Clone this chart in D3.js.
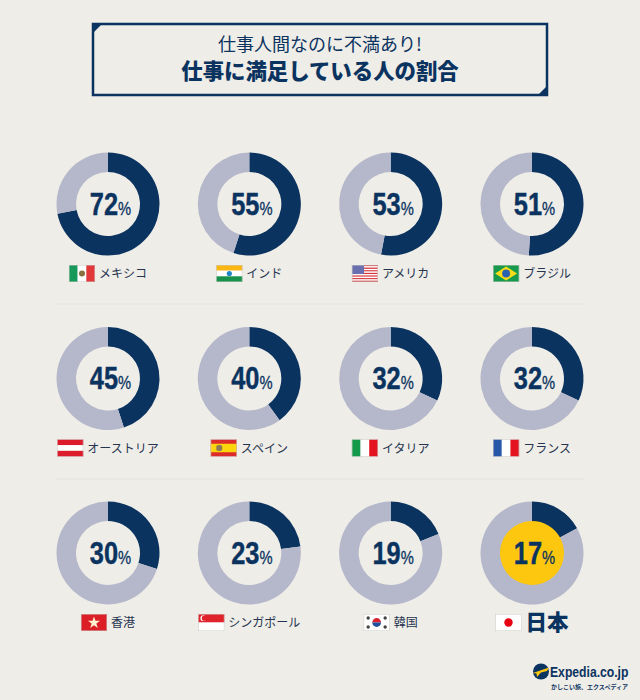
<!DOCTYPE html>
<html>
<head>
<meta charset="utf-8">
<script src="https://cdn.jsdelivr.net/npm/d3@7"></script>
<style>
  html, body { margin: 0; padding: 0; background: #eeede8; }
  svg { display: block; }
  text { font-family: "Noto Sans CJK JP", sans-serif; }
  .num { font-family: "Liberation Sans", Arial, sans-serif; font-weight: 700; }
</style>
</head>
<body>
<svg id="chart" width="640" height="700"></svg>
<script>
const countries = ["メキシコ", "インド", "アメリカ", "ブラジル", "オーストリア", "スペイン", "イタリア", "フランス", "香港", "シンガポール", "韓国", "日本"];
const flags = ["mx", "in", "us", "br", "at", "es", "it", "fr", "hk", "sg", "kr", "jp"];
const values = [72, 55, 53, 51, 45, 40, 32, 32, 30, 23, 19, 17];
const titleTop = "仕事人間なのに不満あり!";
const titleMain = "仕事に満足している人の割合";

const NAVY = "#0b3360";
const GREY = "#b5b7cb";
const BG = "#eeede8";

const svg = d3.select("#chart");

/**
 * SCALES
 */
const colX = d3.scaleLinear().domain([0, 3]).range([108, 532]);
const rowY = d3.scaleLinear().domain([0, 2]).range([204, 553]);
const pie = d3.pie().sort(null).startAngle(0).endAngle(2 * Math.PI);
const arc = d3.arc().innerRadius(32).outerRadius(51.5);

/**
 * TITLE BOX
 */
function drawTitle() {
  svg.append("rect")
    .attr("x", 93).attr("y", 24)
    .attr("width", 454).attr("height", 71)
    .attr("fill", "none")
    .attr("stroke", NAVY)
    .attr("stroke-width", 2.5);

  svg.append("path").attr("d", "M92,23 h11 l-11,11 z").attr("fill", NAVY);
  svg.append("path").attr("d", "M548,96 h-11 l11,-11 z").attr("fill", NAVY);

  svg.append("text")
    .attr("x", 320).attr("y", 51)
    .attr("text-anchor", "middle")
    .attr("font-size", 18)
    .attr("fill", NAVY)
    .text(titleTop);

  svg.append("text")
    .attr("x", 320).attr("y", 79)
    .attr("text-anchor", "middle")
    .attr("font-size", 21.4)
    .attr("font-weight", 900)
    .attr("fill", NAVY)
    .text(titleMain);
}

/**
 * FLAGS (26 x 17 local coords)
 */
function stripes(g, colors, vertical) {
  const n = colors.length;
  colors.forEach((c, i) => {
    g.append("rect")
      .attr("x", vertical ? i * 26 / n : 0)
      .attr("y", vertical ? 0 : i * 17 / n)
      .attr("width", vertical ? 26 / n : 26)
      .attr("height", vertical ? 17 : 17 / n)
      .attr("fill", c);
  });
}

function dot(g, x, y, r, fill) {
  g.append("circle").attr("cx", x).attr("cy", y).attr("r", r).attr("fill", fill);
}

function drawFlag(g, code) {
  if (code === "mx") {
    stripes(g, ["#17995a", "#fff", "#e2383a"], true);
    dot(g, 13, 8.5, 3, "#8a6f3f");
  } else if (code === "in") {
    stripes(g, ["#fbb612", "#fff", "#17914c"], false);
    dot(g, 13, 8.5, 2.6, "#1e86c8");
  } else if (code === "us") {
    stripes(g, d3.range(13).map(i => i % 2 ? "#fff" : "#d8343a"), false);
    g.append("rect").attr("width", 12).attr("height", 9).attr("fill", "#6a6fb0");
  } else if (code === "br") {
    stripes(g, ["#189a4c"], false);
    g.append("path").attr("d", "M13,1.5 L24,8.5 L13,15.5 L2,8.5 Z").attr("fill", "#fbdc16");
    dot(g, 13, 8.5, 4, "#2a62ad");
  } else if (code === "at") {
    stripes(g, ["#dd1c2b", "#fff", "#dd1c2b"], false);
  } else if (code === "es") {
    g.append("rect").attr("width", 26).attr("height", 17).attr("fill", "#dd2a2a");
    g.append("rect").attr("y", 4.25).attr("width", 26).attr("height", 8.5).attr("fill", "#fbd60f");
    g.append("rect").attr("x", 5.5).attr("y", 5.5).attr("width", 6).attr("height", 6).attr("rx", 2).attr("fill", "#8a7a5a");
  } else if (code === "it") {
    stripes(g, ["#139a4a", "#fff", "#e3141f"], true);
  } else if (code === "fr") {
    stripes(g, ["#2556a8", "#fff", "#e3141f"], true);
  } else if (code === "hk") {
    stripes(g, ["#dc1f26"], false);
    g.append("path").attr("d", d3.symbol(d3.symbolStar, 46)).attr("transform", "translate(13,8.8)").attr("fill", "#fff3d0");
  } else if (code === "sg") {
    stripes(g, ["#e0222b", "#fff"], false);
    dot(g, 5, 4.2, 2.9, "#fff");
    dot(g, 6.1, 4.2, 2.6, "#e0222b");
  } else if (code === "kr") {
    stripes(g, ["#fff"], false);
    g.append("path").attr("d", "M8.6,8.5 a4.4,4.4 0 0 1 8.8,0 z").attr("fill", "#d8232f");
    g.append("path").attr("d", "M8.6,8.5 a4.4,4.4 0 0 0 8.8,0 z").attr("fill", "#1c4f9c");
    [[4.5, 4], [21.5, 4], [4.5, 13], [21.5, 13]].forEach(p => dot(g, p[0], p[1], 1.7, "#444"));
  } else if (code === "jp") {
    stripes(g, ["#fff"], false);
    dot(g, 13, 8.5, 4.2, "#e60012");
  }
  g.append("rect")
    .attr("x", 0.25).attr("y", 0.25)
    .attr("width", 25.5).attr("height", 16.5)
    .attr("fill", "none")
    .attr("stroke", "#c9c8c4")
    .attr("stroke-width", 0.5);
}

/**
 * ONE DONUT + LABEL
 */
function drawDonut(i) {
  const col = i % 4;
  const row = Math.floor(i / 4);
  const cx = colX(col);
  const cy = rowY(row);
  const isJapan = flags[i] === "jp";
  const g = svg.append("g").attr("transform", `translate(${cx},${cy})`);

  if (isJapan) {
    g.append("circle").attr("r", 33).attr("fill", "#fdc70f");
  }

  g.selectAll("path")
    .data(pie([values[i], 100 - values[i]]))
    .enter()
    .append("path")
    .attr("d", arc)
    .attr("fill", (d, j) => j === 0 ? NAVY : GREY);

  const label = g.append("text")
    .attr("class", "num")
    .attr("text-anchor", "middle")
    .attr("x", 2.5 / 0.82)
    .attr("y", 10.5)
    .attr("transform", "scale(0.82,1)")
    .attr("fill", NAVY);
  label.append("tspan")
    .attr("font-size", 31)
    .attr("stroke", NAVY)
    .attr("stroke-width", 0.4)
    .text(values[i]);
  label.append("tspan")
    .attr("font-size", 18)
    .attr("font-weight", 400)
    .attr("stroke", NAVY)
    .attr("stroke-width", 0.3)
    .text("%");

  // flag + name centred together under the ring
  const item = g.append("g").attr("transform", "translate(0,61)");
  const name = item.append("text")
    .attr("y", isJapan ? 16 : 13)
    .attr("font-size", isJapan ? 21.5 : 12)
    .attr("font-weight", isJapan ? 900 : 400)
    .attr("fill", isJapan ? NAVY : "#26344f")
    .text(countries[i]);
  const textW = name.node().getComputedTextLength();
  const left = -(26 + 4 + textW) / 2;
  name.attr("x", left + 30);
  const flag = item.append("g").attr("transform", `translate(${left},0)`);
  drawFlag(flag, flags[i]);
}

/**
 * LOGO
 */
function drawLogo() {
  const g = svg.append("g");
  g.append("circle").attr("cx", 541).attr("cy", 671.5).attr("r", 8).attr("fill", NAVY);
  g.append("path")
    .attr("d", "M533,673 L549,667.5 L547,671 L541,672.5 L537,677 L536.5,673.5 Z")
    .attr("fill", "#fdc70f");
  g.append("text")
    .attr("class", "num")
    .attr("transform", "translate(550,677) scale(0.84,1)")
    .attr("font-size", 14.5)
    .attr("fill", NAVY)
    .text("Expedia.co.jp");
  g.append("text")
    .attr("x", 551).attr("y", 689)
    .attr("font-size", 6)
    .attr("font-weight", 700)
    .attr("fill", NAVY)
    .text("かしこい旅、エクスペディア");
}

/**
 * MAIN
 */
svg.append("rect").attr("width", 640).attr("height", 700).attr("fill", BG);
drawTitle();

[304, 479].forEach(y => {
  svg.append("line")
    .attr("x1", 56).attr("x2", 584)
    .attr("y1", y).attr("y2", y)
    .attr("stroke", "#e5e3de")
    .attr("stroke-width", 1);
});

values.forEach((v, i) => drawDonut(i));
drawLogo();
</script>
</body>
</html>
